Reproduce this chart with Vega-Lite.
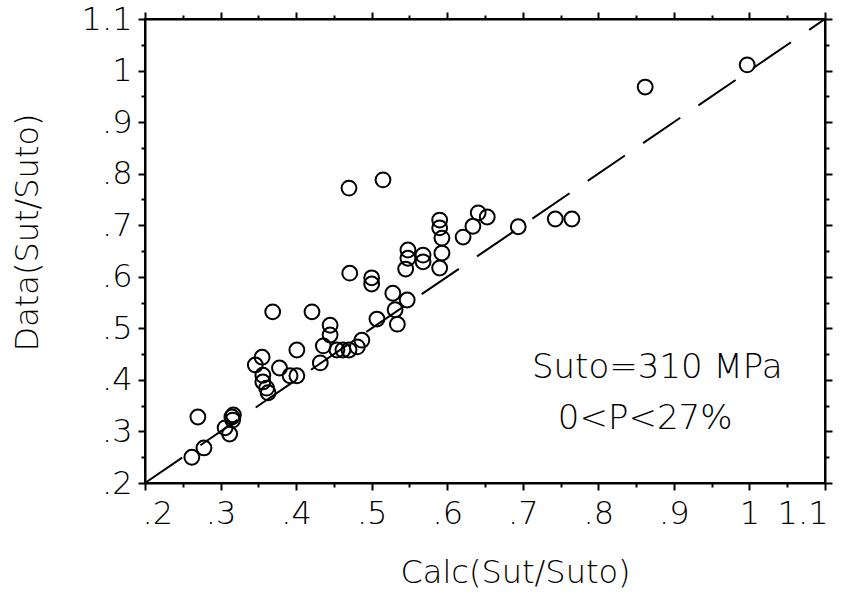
{
  "$schema": "https://vega.github.io/schema/vega-lite/v6.json",
  "width": 680,
  "height": 464,
  "autosize": {"type": "none"},
  "padding": {"left": 145, "top": 19, "right": 16, "bottom": 121},
  "background": "white",
  "config": {
    "view": {"stroke": "black", "strokeWidth": 2},
    "font": "DejaVu Sans",
    "axis": {
      "grid": false,
      "domainColor": "black",
      "domainWidth": 2,
      "tickColor": "black",
      "tickWidth": 2,
      "labelFont": "DejaVu Sans",
      "labelFontWeight": 200,
      "labelFontSize": 32,
      "labelColor": "black",
      "titleFont": "DejaVu Sans",
      "titleFontWeight": 200,
      "titleFontSize": 32,
      "titleColor": "black",
      "labelOverlap": false,
      "labelFlush": false
    }
  },
  "datasets": {
    "points": [
      {"calc": 0.262, "data": 0.250}, {"calc": 0.278, "data": 0.268}, {"calc": 0.270, "data": 0.328},
      {"calc": 0.306, "data": 0.307}, {"calc": 0.312, "data": 0.295}, {"calc": 0.315, "data": 0.328},
      {"calc": 0.316, "data": 0.322}, {"calc": 0.317, "data": 0.332}, {"calc": 0.346, "data": 0.429},
      {"calc": 0.355, "data": 0.444}, {"calc": 0.356, "data": 0.409}, {"calc": 0.356, "data": 0.396},
      {"calc": 0.361, "data": 0.384}, {"calc": 0.363, "data": 0.375}, {"calc": 0.369, "data": 0.532},
      {"calc": 0.378, "data": 0.423}, {"calc": 0.392, "data": 0.408}, {"calc": 0.401, "data": 0.408},
      {"calc": 0.401, "data": 0.458}, {"calc": 0.421, "data": 0.532}, {"calc": 0.432, "data": 0.433},
      {"calc": 0.436, "data": 0.466}, {"calc": 0.445, "data": 0.506}, {"calc": 0.445, "data": 0.487},
      {"calc": 0.454, "data": 0.458}, {"calc": 0.462, "data": 0.458}, {"calc": 0.470, "data": 0.458},
      {"calc": 0.481, "data": 0.464}, {"calc": 0.487, "data": 0.477}, {"calc": 0.470, "data": 0.772},
      {"calc": 0.471, "data": 0.607}, {"calc": 0.500, "data": 0.598}, {"calc": 0.500, "data": 0.586},
      {"calc": 0.507, "data": 0.518}, {"calc": 0.515, "data": 0.788}, {"calc": 0.528, "data": 0.568},
      {"calc": 0.531, "data": 0.536}, {"calc": 0.534, "data": 0.508}, {"calc": 0.547, "data": 0.555},
      {"calc": 0.545, "data": 0.615}, {"calc": 0.548, "data": 0.652}, {"calc": 0.548, "data": 0.636},
      {"calc": 0.568, "data": 0.642}, {"calc": 0.568, "data": 0.629}, {"calc": 0.590, "data": 0.617},
      {"calc": 0.593, "data": 0.646}, {"calc": 0.593, "data": 0.675}, {"calc": 0.590, "data": 0.695},
      {"calc": 0.590, "data": 0.710}, {"calc": 0.621, "data": 0.677}, {"calc": 0.634, "data": 0.698},
      {"calc": 0.641, "data": 0.724}, {"calc": 0.653, "data": 0.716}, {"calc": 0.694, "data": 0.697},
      {"calc": 0.743, "data": 0.712}, {"calc": 0.765, "data": 0.712}, {"calc": 0.862, "data": 0.968},
      {"calc": 0.997, "data": 1.011}
    ],
    "diag": [{"calc": 0.2, "data": 0.2}, {"calc": 1.1, "data": 1.1}],
    "notes": [
      {"calc": 0.878, "data": 0.423, "label": "Suto=310 MPa"},
      {"calc": 0.862, "data": 0.324, "label": "0<P<27%"}
    ]
  },
  "resolve": {"axis": {"x": "independent", "y": "independent"}},
  "layer": [
    {
      "data": {"name": "diag"},
      "mark": {"type": "line", "color": "black", "strokeWidth": 2, "strokeDash": [45, 22]},
      "encoding": {
        "x": {"field": "calc", "type": "quantitative",
          "scale": {"domain": [0.2, 1.1], "nice": false, "zero": false},
          "axis": {"orient": "top", "title": null, "labels": false,
            "values": [0.2,0.25,0.3,0.35,0.4,0.45,0.5,0.55,0.6,0.65,0.7,0.75,0.8,0.85,0.9,0.95,1.0,1.05,1.1],
            "tickSize": {"condition": {"test": "round(datum.value*20) % 2 == 1", "value": 4}, "value": 7}}},
        "y": {"field": "data", "type": "quantitative",
          "scale": {"domain": [0.2, 1.1], "nice": false, "zero": false},
          "axis": {"orient": "right", "title": null, "labels": false,
            "values": [0.2,0.25,0.3,0.35,0.4,0.45,0.5,0.55,0.6,0.65,0.7,0.75,0.8,0.85,0.9,0.95,1.0,1.05,1.1],
            "tickSize": {"condition": {"test": "round(datum.value*20) % 2 == 1", "value": 4}, "value": 7}}}
      }
    },
    {
      "data": {"name": "points"},
      "mark": {"type": "point", "shape": "circle", "filled": false, "stroke": "black", "strokeWidth": 2, "size": 220, "opacity": 1},
      "encoding": {
        "x": {"field": "calc", "type": "quantitative",
          "scale": {"domain": [0.2, 1.1], "nice": false, "zero": false},
          "axis": {"orient": "bottom", "title": "Calc(Sut/Suto)",
            "values": [0.2,0.25,0.3,0.35,0.4,0.45,0.5,0.55,0.6,0.65,0.7,0.75,0.8,0.85,0.9,0.95,1.0,1.05,1.1],
            "labelExpr": "round(datum.value*20) % 2 == 1 ? '' : (datum.value < 0.999 ? substring(format(datum.value, '.1f'), 1) : format(datum.value, '.1~f'))",
            "labelPadding": 8,
            "labelFlush": true,
            "labelFlushOffset": 3,
            "tickSize": {"condition": {"test": "round(datum.value*20) % 2 == 1", "value": 4}, "value": 7},
            "titleX": 370, "titleY": 89, "titleBaseline": "middle", "titleAlign": "center"}},
        "y": {"field": "data", "type": "quantitative",
          "scale": {"domain": [0.2, 1.1], "nice": false, "zero": false},
          "axis": {"orient": "left", "title": "Data(Sut/Suto)",
            "values": [0.2,0.25,0.3,0.35,0.4,0.45,0.5,0.55,0.6,0.65,0.7,0.75,0.8,0.85,0.9,0.95,1.0,1.05,1.1],
            "labelExpr": "round(datum.value*20) % 2 == 1 ? '' : (datum.value < 0.999 ? substring(format(datum.value, '.1f'), 1) : format(datum.value, '.1~f'))",
            "labelPadding": 6,
            "tickSize": {"condition": {"test": "round(datum.value*20) % 2 == 1", "value": 4}, "value": 7},
            "titleX": -118, "titleY": 213, "titleBaseline": "middle", "titleAlign": "center", "titleAngle": -90}}
      }
    },
    {
      "data": {"name": "notes"},
      "mark": {"type": "text", "font": "DejaVu Sans", "fontWeight": 200, "fontSize": 34, "color": "black", "align": "center", "baseline": "middle"},
      "encoding": {
        "x": {"field": "calc", "type": "quantitative", "scale": {"domain": [0.2, 1.1], "nice": false, "zero": false}, "axis": null},
        "y": {"field": "data", "type": "quantitative", "scale": {"domain": [0.2, 1.1], "nice": false, "zero": false}, "axis": null},
        "text": {"field": "label"}
      }
    }
  ]
}
